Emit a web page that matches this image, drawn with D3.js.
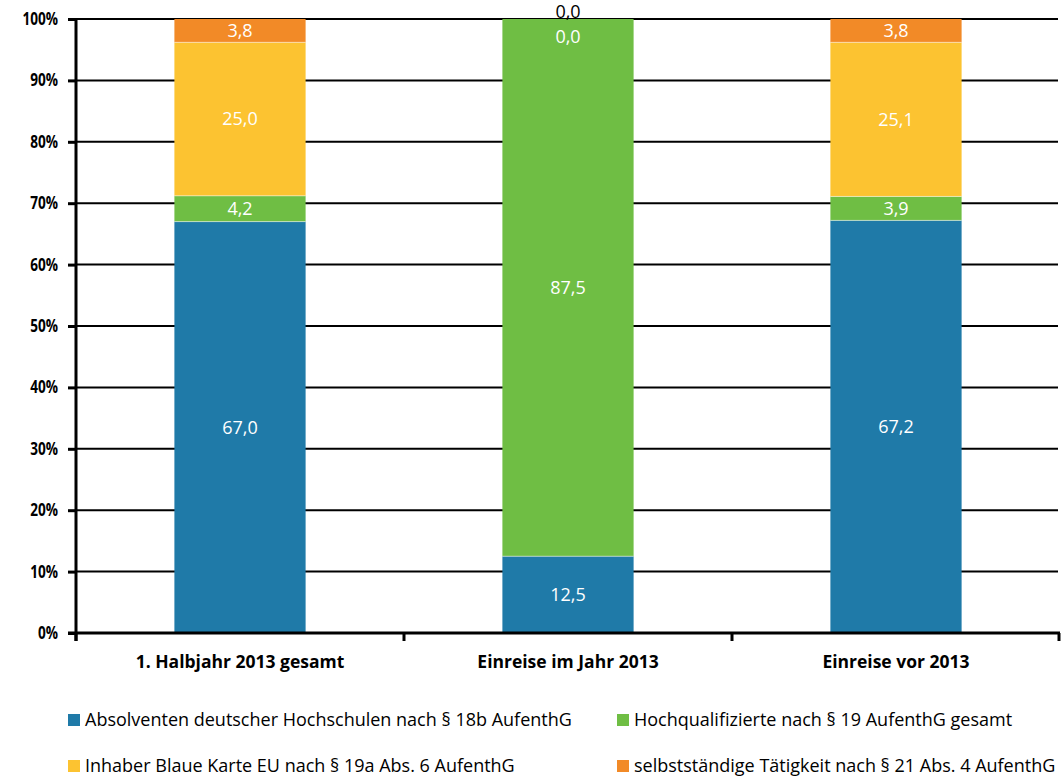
<!DOCTYPE html>
<html>
<head>
<meta charset="utf-8">
<script src="https://cdn.jsdelivr.net/npm/d3@7"></script>
<style>
  html, body { margin: 0; padding: 0; background: #fff; }
  svg { display: block; }
</style>
</head>
<body>
<svg id="chart" width="1063" height="778"></svg>
<script>
// Kategorien (x-Achse)
const categories = ["1. Halbjahr 2013 gesamt", "Einreise im Jahr 2013", "Einreise vor 2013"];

// Reihen (Anteile in %, von unten nach oben gestapelt)
const seriesNames = [
  "Absolventen deutscher Hochschulen nach § 18b AufenthG",
  "Hochqualifizierte nach § 19 AufenthG gesamt",
  "Inhaber Blaue Karte EU nach § 19a Abs. 6 AufenthG",
  "selbstständige Tätigkeit nach § 21 Abs. 4 AufenthG"
];
const absolventen = [67.0, 12.5, 67.2];
const hochqualifizierte = [4.2, 87.5, 3.9];
const blaueKarte = [25.0, 0.0, 25.1];
const selbststaendig = [3.8, 0.0, 3.8];

const yTicks = [0, 10, 20, 30, 40, 50, 60, 70, 80, 90, 100];

const colors = ["#1f7aa8", "#6fbe44", "#fcc331", "#f28a27"];

const svg = d3.select("#chart");
const x0 = 76, x1 = 1060;
const yTop = 19, yBot = 633;

const x = d3.scaleBand().domain(categories).range([x0, x1]).paddingInner(0).paddingOuter(0);
const y = d3.scaleLinear().domain([0, 100]).range([yBot, yTop]);

const textFont = "'Open Sans', sans-serif";

// Stapeldaten
const table = categories.map((c, i) => ({
  cat: c,
  s0: absolventen[i], s1: hochqualifizierte[i], s2: blaueKarte[i], s3: selbststaendig[i]
}));
const keys = ["s0", "s1", "s2", "s3"];
const stacked = d3.stack().keys(keys)(table);

// Gitterlinien
svg.append("g")
  .selectAll("line")
  .data(yTicks.filter(t => t > 0))
  .join("line")
  .attr("x1", x0).attr("x2", 1058)
  .attr("y1", d => y(d)).attr("y2", d => y(d))
  .attr("stroke", "#000").attr("stroke-width", 2);

// Balken
const barW = x.bandwidth() * 0.4;
const barX = d => x(d.data.cat) + (x.bandwidth() - barW) / 2;
const layers = svg.append("g").selectAll("g")
  .data(stacked)
  .join("g")
  .attr("fill", (d, i) => colors[i]);

layers.selectAll("rect")
  .data(d => d)
  .join("rect")
  .attr("x", barX)
  .attr("width", barW)
  .attr("y", d => y(d[1]))
  .attr("height", d => y(d[0]) - y(d[1]));

// Trennlinien zwischen den Segmenten
stacked.forEach((layer, li) => {
  if (li === 0) return;
  svg.append("g").selectAll("line")
    .data(layer.filter(d => d[1] - d[0] > 0))
    .join("line")
    .attr("x1", barX)
    .attr("x2", d => barX(d) + barW)
    .attr("y1", d => y(d[0])).attr("y2", d => y(d[0]))
    .attr("stroke", "#ffffff").attr("stroke-opacity", 0.5).attr("stroke-width", 1);
});

// Wertbeschriftungen
const fmt = v => d3.format(".1f")(v).replace(".", ",");
stacked.forEach((layer, li) => {
  svg.append("g").selectAll("text")
    .data(layer)
    .join("text")
    .attr("x", d => x(d.data.cat) + x.bandwidth() / 2)
    .attr("y", d => {
      const v = d[1] - d[0];
      const mid = (y(d[0]) + y(d[1])) / 2;
      if (v === 0 && li === 2) return mid + 18;
      if (v === 0 && li === 3) return mid - 7;
      return mid;
    })
    .attr("dy", "0.35em")
    .attr("text-anchor", "middle")
    .attr("font-family", textFont)
    .attr("font-size", 18)
    .attr("fill", d => (d[1] - d[0] === 0 && li === 3) ? "#000" : "#fff")
    .text(d => fmt(d[1] - d[0]));
});

// y-Achse
const yAxis = d3.axisLeft(y).tickValues(yTicks).tickSize(8).tickFormat(d => d + "%");
const gy = svg.append("g").attr("transform", `translate(${x0},0)`).call(yAxis);
gy.select(".domain").attr("stroke", "#000").attr("stroke-width", 3)
  .attr("d", `M0,${yTop - 1}V${yBot + 8}`);
gy.selectAll(".tick line").attr("stroke", "#000").attr("stroke-width", 3);
gy.selectAll(".tick text")
  .attr("x", 0)
  .attr("transform", "translate(-18,0) scale(0.8,1)")
  .attr("font-family", textFont).attr("font-weight", "bold").attr("font-size", 17).attr("fill", "#000");

// x-Achse
const gx = svg.append("g").attr("transform", `translate(0,${yBot})`);
gx.append("line").attr("x1", x0 - 8).attr("x2", x1).attr("y1", 0).attr("y2", 0)
  .attr("stroke", "#000").attr("stroke-width", 3);
gx.selectAll(".cat-tick")
  .data(categories.map(c => x(c)).concat([x1 - 1]))
  .join("line")
  .attr("class", "cat-tick")
  .attr("x1", d => d).attr("x2", d => d)
  .attr("y1", 0).attr("y2", 8)
  .attr("stroke", "#000").attr("stroke-width", 3);
gx.selectAll("text")
  .data(categories)
  .join("text")
  .attr("x", d => x(d) + x.bandwidth() / 2)
  .attr("y", 29)
  .attr("dy", "0.35em")
  .attr("text-anchor", "middle")
  .attr("font-family", textFont).attr("font-weight", "bold").attr("font-size", 17.5).attr("fill", "#000")
  .text(d => d);

// Legende
const legendPos = [[68, 720], [617, 720], [68, 766], [617, 766]];
const lg = svg.append("g").selectAll("g")
  .data(seriesNames)
  .join("g")
  .attr("transform", (d, i) => `translate(${legendPos[i][0]},${legendPos[i][1]})`);
lg.append("rect").attr("x", 0).attr("y", -6).attr("width", 12).attr("height", 12)
  .attr("fill", (d, i) => colors[i]);
lg.append("text").attr("x", 17).attr("y", 0).attr("dy", "0.35em")
  .attr("font-family", textFont).attr("font-size", 18).attr("fill", "#000")
  .text(d => d);
</script>
</body>
</html>
